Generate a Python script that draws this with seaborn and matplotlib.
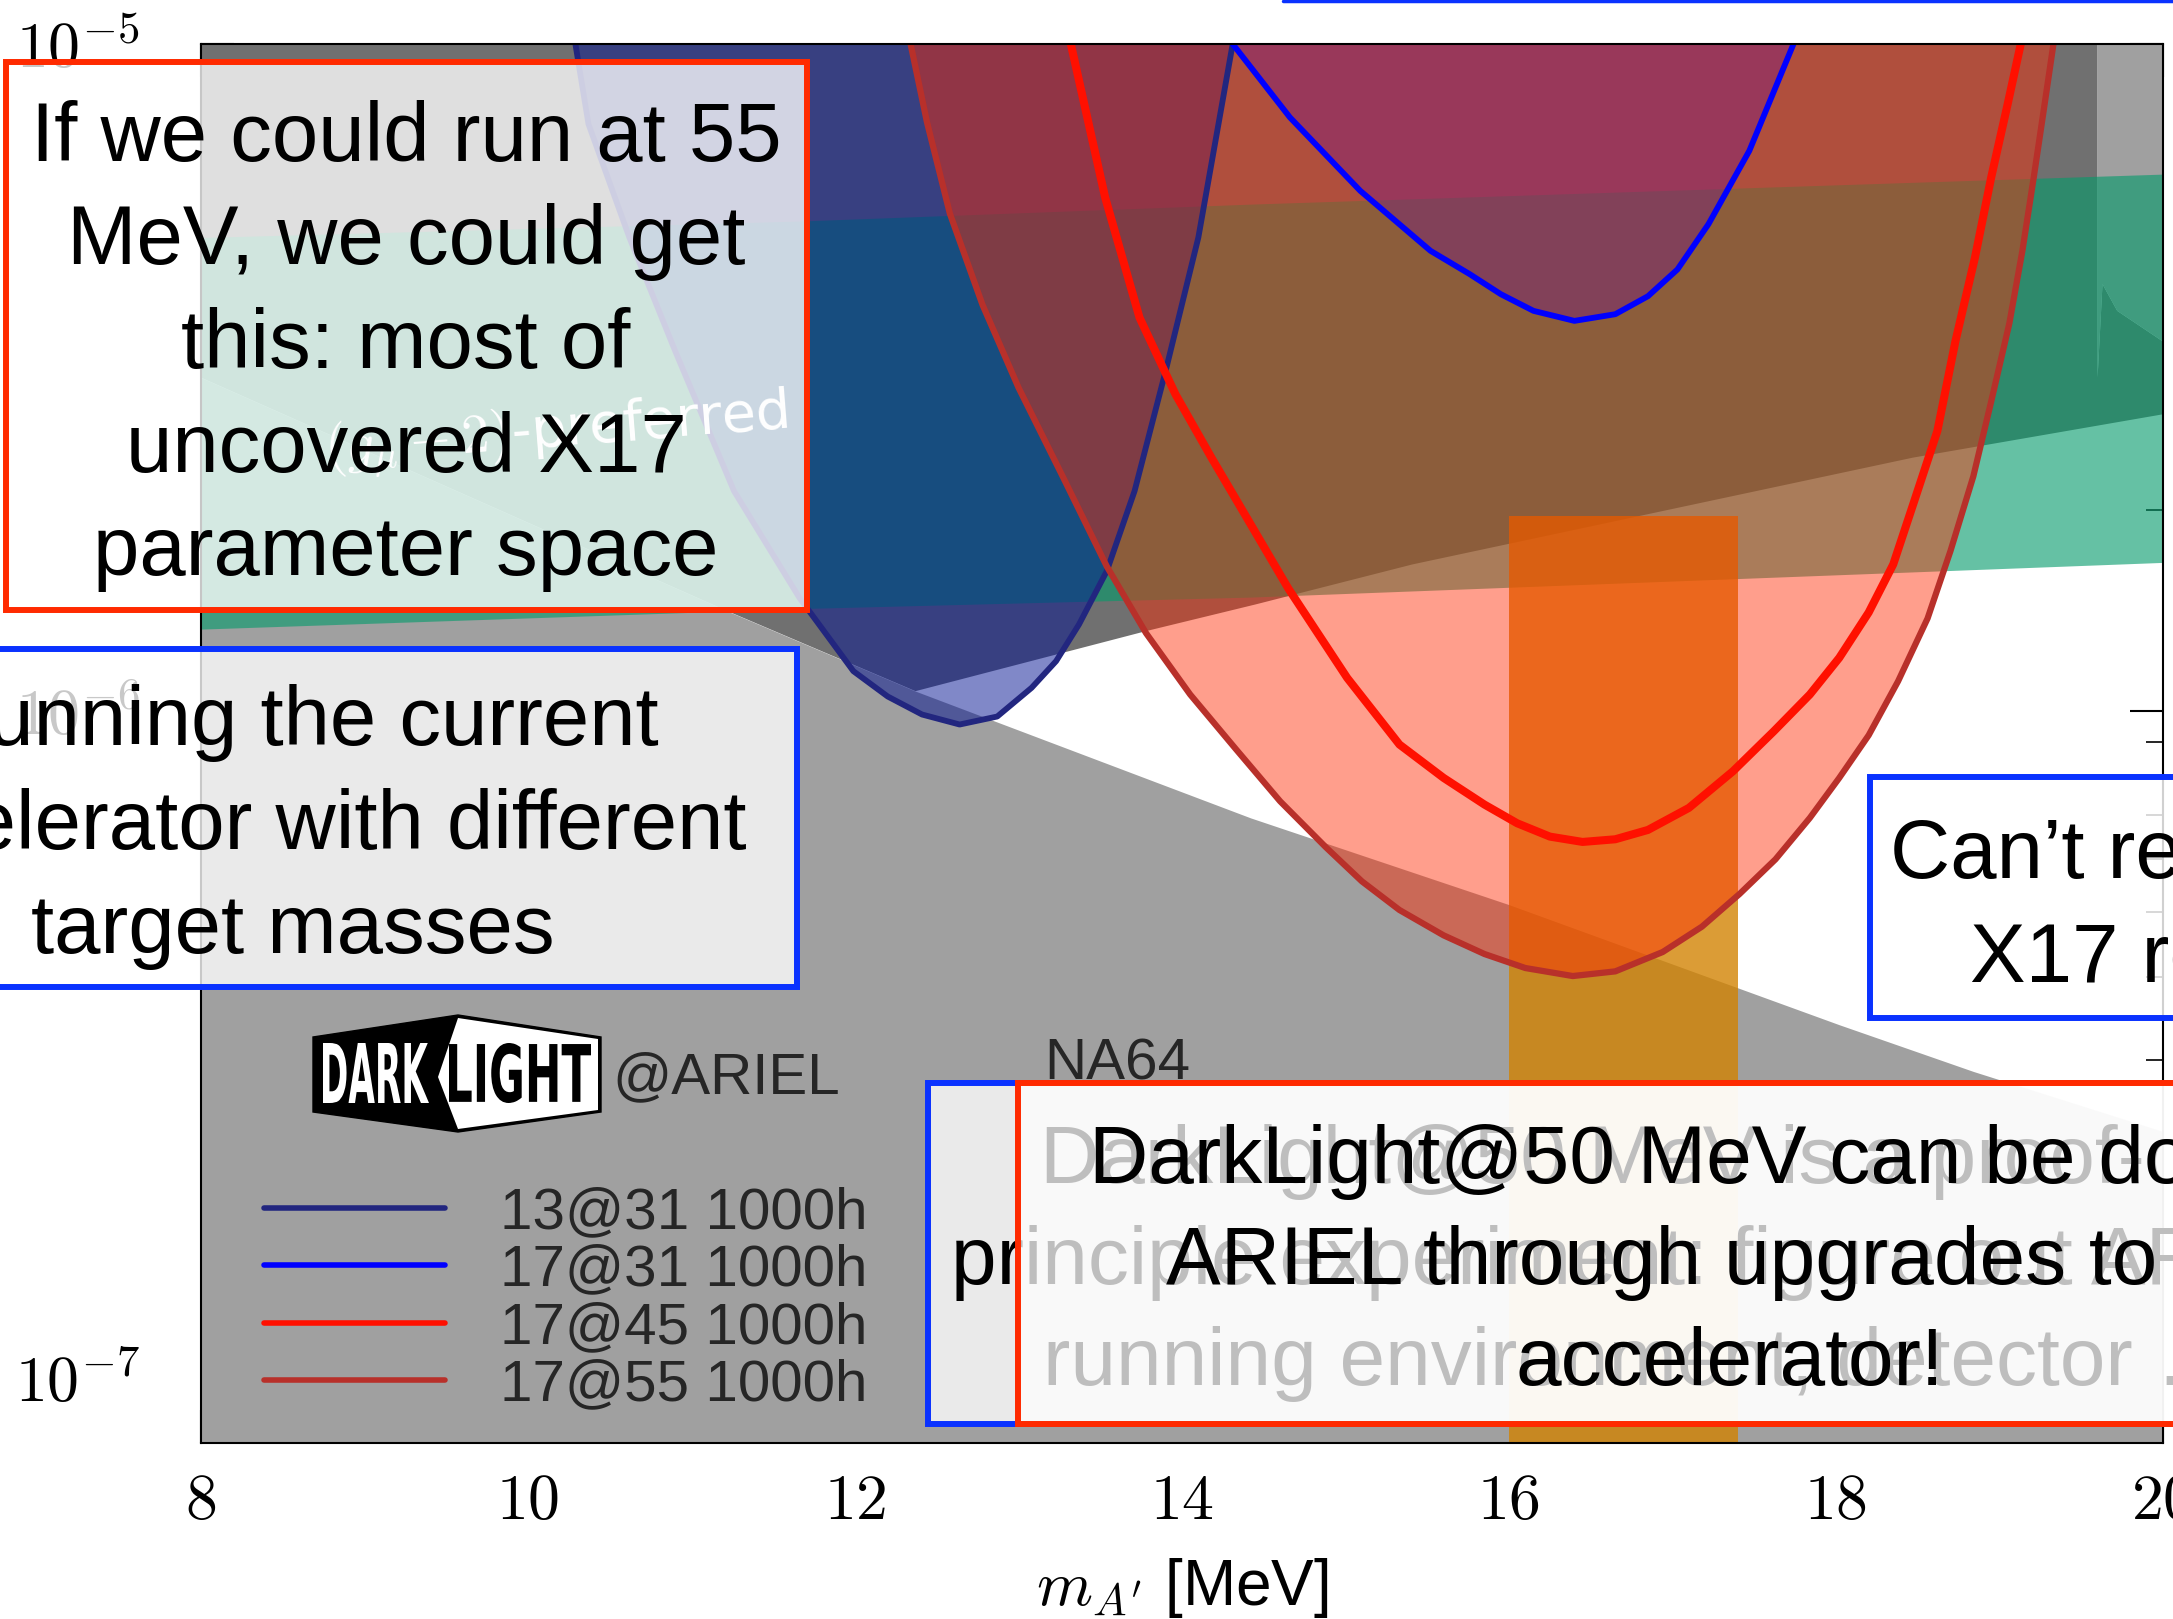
import numpy as np
import matplotlib
matplotlib.use("Agg")
import matplotlib.pyplot as plt
import seaborn as sns
from matplotlib.patches import Rectangle, Polygon, PathPatch
from matplotlib.lines import Line2D
from matplotlib.textpath import TextPath
from matplotlib.font_manager import FontProperties
from matplotlib.transforms import Affine2D
from matplotlib.ticker import LogLocator, MultipleLocator, FuncFormatter, NullFormatter

W, H = 2173, 1619

# ---- values: dark-photon mass [MeV] and log10(epsilon) ----
# NA64-like lower exclusion (light gray below this edge)
na64_mass = [8.0, 11.22, 12.37, 14.42, 16.0, 18.02, 18.84, 20.0]
na64_log = [-5.50, -5.85, -5.97, -6.16, -6.29, -6.47, -6.54, -6.63]
# lower edge of the upper (dark gray) exclusion right of the kink
upper_mass = [12.37, 13.78, 14.45, 15.41, 18.47, 20.0]
upper_log = [-5.97, -5.88, -5.84, -5.78, -5.62, -5.555]
# small light-gray notch at the top right
notch_mass = [19.6, 19.63, 19.72, 20.0]
notch_log = [-5.50, -5.36, -5.40, -5.446]

# (g-2)_mu preferred band
g2_mass = [8.0, 11.7, 14.42, 20.0]
g2_low = [-5.877, -5.846, -5.829, -5.777]
g2_high = [-5.290, -5.265, -5.240, -5.195]

# X17 window
x17_mass = [16.0, 17.4]
x17_top = -5.708

# DarkLight@ARIEL projected reach, 1000 h each
navy_mass = [10.29, 10.37, 10.62, 10.90, 11.26, 11.66, 11.99, 12.20, 12.41, 12.64, 12.87,
             13.08, 13.23, 13.37, 13.54, 13.71, 13.90, 14.10, 14.31]
navy_log = [-5.00, -5.12, -5.29, -5.46, -5.67, -5.83, -5.94, -5.978, -6.005, -6.02, -6.008,
            -5.965, -5.925, -5.87, -5.79, -5.67, -5.49, -5.29, -5.00]
blue_mass = [14.31, 14.66, 15.09, 15.52, 15.76, 15.95, 16.15, 16.40, 16.65, 16.85, 17.03,
             17.22, 17.47, 17.74]
blue_log = [-5.00, -5.11, -5.22, -5.31, -5.345, -5.375, -5.400, -5.415, -5.405, -5.378,
            -5.338, -5.27, -5.16, -5.00]
red_mass = [13.32, 13.53, 13.74, 13.96, 14.18, 14.42, 14.65, 15.01, 15.33, 15.60, 15.85,
            16.05, 16.25, 16.45, 16.65, 16.85, 17.10, 17.37, 17.62, 17.84, 18.02, 18.20,
            18.35, 18.48, 18.62, 18.73, 18.85, 18.95, 19.05, 19.13]
red_log = [-5.00, -5.23, -5.41, -5.525, -5.62, -5.72, -5.816, -5.95, -6.05, -6.10, -6.14,
           -6.168, -6.188, -6.196, -6.192, -6.178, -6.145, -6.09, -6.03, -5.975, -5.92,
           -5.852, -5.78, -5.684, -5.58, -5.446, -5.32, -5.199, -5.09, -5.00]
brown_mass = [12.34, 12.44, 12.58, 12.78, 13.00, 13.28, 13.54, 13.78, 14.05, 14.33, 14.60,
              14.88, 15.10, 15.33, 15.60, 15.85, 16.10, 16.39, 16.65, 16.94, 17.18, 17.41,
              17.63, 17.84, 18.02, 18.20, 18.38, 18.56, 18.70, 18.84, 18.95, 19.06, 19.14,
              19.21, 19.27, 19.33]
brown_log = [-5.00, -5.117, -5.254, -5.391, -5.515, -5.653, -5.783, -5.883, -5.975, -6.057,
             -6.135, -6.204, -6.255, -6.298, -6.336, -6.364, -6.385, -6.397, -6.39, -6.361,
             -6.323, -6.274, -6.222, -6.160, -6.100, -6.036, -5.955, -5.861, -5.760, -5.648,
             -5.535, -5.419, -5.310, -5.199, -5.100, -5.00]
run_labels = ["13@31 1000h", "17@31 1000h", "17@45 1000h", "17@55 1000h"]


def eps(v):
    return 10.0 ** np.asarray(v, dtype=float)


def fx(px):
    return px / W


def fy(py):
    return 1 - py / H


sns.set_theme(style="ticks")
plt.rcParams["font.family"] = ["Liberation Sans", "DejaVu Sans"]
plt.rcParams["mathtext.fontset"] = "cm"

fig = plt.figure(figsize=(W / 100, H / 100), dpi=100)
ax = fig.add_axes([fx(201), fy(1443), 1962 / W, 1399 / H])
ax.set_yscale("log")
ax.set_facecolor("white")
y_lo, y_hi = 8e-8, 1e-5

# ---- excluded regions ----
ax.fill_between(na64_mass, y_lo, eps(na64_log), color="#a0a0a0", lw=0)
na = np.array(na64_mass)
nl = np.array(na64_log)
keep = na <= 12.37
dark_x = np.concatenate([[8.0, 19.6], notch_mass, np.array(upper_mass)[::-1], na[keep][::-1]])
dark_y = np.concatenate([[y_hi, y_hi], eps(notch_log), eps(upper_log[::-1]), eps(nl[keep][::-1])])
ax.fill(dark_x, dark_y, color="#707070", lw=0)
ax.fill(np.concatenate([[19.6, 20.0], notch_mass[::-1]]),
        np.concatenate([[y_hi, y_hi], eps(notch_log[::-1])]), color="#a0a0a0", lw=0)

# (g-2) band and X17 window
ax.fill_between(g2_mass, eps(g2_low), eps(g2_high), color="#049b6b", alpha=0.61, lw=0)
ax.text(10.17, 10 ** -5.585, r"$(g_\mu-2)$-preferred", color="white", fontsize=40,
        rotation=4.5, ha="center", va="center", family="DejaVu Sans", zorder=6)
ax.fill_between(x17_mass, y_lo, eps([x17_top, x17_top]), color="#d28200", alpha=0.79, lw=0)

# ---- projected reach ----
ax.fill_between(navy_mass, eps(navy_log), y_hi, color="#021292", alpha=0.5, lw=0)
sns.lineplot(x=navy_mass, y=eps(navy_log), ax=ax, color="#22267f", lw=4.2,
             estimator=None, sort=False, solid_capstyle="round", label=run_labels[0])
ax.fill_between(blue_mass, eps(blue_log), y_hi, color="#0000ff", alpha=0.37, lw=0)
sns.lineplot(x=blue_mass, y=eps(blue_log), ax=ax, color="#0000ff", lw=4.2,
             estimator=None, sort=False, solid_capstyle="round", label=run_labels[1])
ax.fill_between(brown_mass, eps(brown_log), y_hi, color="#ff2800", alpha=0.45, lw=0)
sns.lineplot(x=red_mass, y=eps(red_log), ax=ax, color="#ff1000", lw=5.8,
             estimator=None, sort=False, solid_capstyle="round", label=run_labels[2])
sns.lineplot(x=brown_mass, y=eps(brown_log), ax=ax, color="#b8302a", lw=4.5,
             estimator=None, sort=False, solid_capstyle="round", label=run_labels[3])

# ---- axes ----
ax.set_xlim(8, 20)
ax.set_ylim(y_lo, y_hi)
ax.xaxis.set_major_locator(MultipleLocator(2))
ax.xaxis.set_major_formatter(FuncFormatter(lambda v, p: rf"${v:g}$"))
ax.yaxis.set_major_locator(LogLocator(base=10))
ax.yaxis.set_minor_locator(LogLocator(base=10, subs=np.arange(2, 10)))
ax.yaxis.set_major_formatter(FuncFormatter(lambda v, p: rf"$10^{{{int(round(np.log10(v)))}}}$"))
ax.yaxis.set_minor_formatter(NullFormatter())
ax.tick_params(which="both", direction="in", top=True, right=True, colors="black",
               labelsize=46)
ax.tick_params(which="major", length=24, width=1.5)
ax.tick_params(which="minor", length=12, width=1.2)
ax.tick_params(axis="y", pad=44)
ax.tick_params(axis="x", pad=21)
for s in ax.spines.values():
    s.set_color("black")
    s.set_linewidth(1.5)
ax.set_xlabel(r"$m_{A'}$ [MeV]", fontsize=46, labelpad=17, color="black")
ax.set_ylabel("")

leg = ax.legend(handles=ax.get_lines()[:4], labels=run_labels, frameon=False,
                loc="upper left", bbox_to_anchor=(fx(264), fy(1186)),
                bbox_transform=fig.transFigure, borderpad=0, borderaxespad=0,
                prop=FontProperties(family="Liberation Sans", size=42),
                handlelength=3.1, handletextpad=0.95, labelspacing=0.06)
for line in leg.get_lines():
    line.set_linewidth(4)

# ---- logo and labels ----
fig.add_artist(Polygon([(fx(313), fy(1037)), (fx(458), fy(1015)), (fx(601), fy(1037)),
                        (fx(601), fy(1112)), (fx(458), fy(1132)), (fx(313), fy(1112))],
                       closed=True, transform=fig.transFigure, facecolor="black",
                       edgecolor="black", lw=1, zorder=3))
fig.add_artist(Polygon([(fx(458), fy(1018)), (fx(598), fy(1039)), (fx(598), fy(1110)),
                        (fx(458), fy(1129)), (fx(438), fy(1077))],
                       closed=True, transform=fig.transFigure, facecolor="white", lw=0, zorder=3.1))


def logo_word(s, x0, x1, y0, y1, color):
    tp = TextPath((0, 0), s, size=100, prop=FontProperties(family="DejaVu Sans", weight="bold"))
    bb = tp.get_extents()
    tr = (Affine2D().translate(-bb.x0, -bb.y0)
          .scale((x1 - x0) / bb.width / W, (y1 - y0) / bb.height / H)
          .translate(fx(x0), fy(y1))) + fig.transFigure
    fig.add_artist(PathPatch(tp, transform=tr, facecolor=color, lw=0, zorder=3.2))


logo_word("DARK", 323, 429, 1043, 1103, "white")
logo_word("LIGHT", 449, 591, 1043, 1103, "black")
fig.text(fx(612), fy(1078), "@ARIEL", fontsize=42, ha="left", va="center", zorder=3)
fig.text(fx(1044), fy(1079), "NA64", fontsize=42, ha="left", va="baseline", zorder=3)

# ---- slide call-outs ----
def callout(x0, y0, x1, y1, edge, alpha, z):
    fig.add_artist(Rectangle((fx(x0), fy(y1)), (x1 - x0) / W, (y1 - y0) / H,
                             transform=fig.transFigure, facecolor=(1, 1, 1, alpha),
                             edgecolor=edge, lw=4.3, zorder=z, clip_on=False))


red_edge, blue_edge = "#ff2a00", "#0a32ff"
txt = dict(fontsize=60, ha="center", va="center", linespacing=1.42, color="black")
txt_low = dict(txt, fontsize=59)

callout(6, 62, 807, 610, red_edge, 0.78, 10)
fig.text(fx(406), fy(346), "If we could run at 55\nMeV, we could get\nthis: most of\n"
         "uncovered X17\nparameter space", zorder=10.5, **txt)

callout(-20, 649, 797, 987, blue_edge, 0.79, 10)
fig.text(fx(293), fy(827), "Running the current\naccelerator with different\ntarget masses",
         zorder=10.5, **txt)

callout(1870, 777, 2220, 1018, blue_edge, 0.82, 10)
fig.text(fx(2172), fy(908), "Can\u2019t reach the\nX17 region", zorder=10.5, **txt)

callout(928, 1083, 2220, 1424, blue_edge, 0.79, 11)
fig.text(fx(1640), fy(1263), "DarkLight@50 MeV is a proof-of-\nprinciple experiment: figure out ARIEL\n"
         "running environment, detector \u2026", zorder=11.5, **txt_low)
callout(1018, 1083, 2220, 1424, red_edge, 0.75, 12)
fig.text(fx(1730), fy(1263), "DarkLight@50 MeV can be done at\nARIEL through upgrades to the\naccelerator!",
         zorder=12.5, **txt_low)

fig.add_artist(Line2D([fx(1283), 1.0], [fy(1.5), fy(1.5)], transform=fig.transFigure,
                      color=blue_edge, lw=2.5, zorder=13))

fig.savefig("out.png", dpi=100)
